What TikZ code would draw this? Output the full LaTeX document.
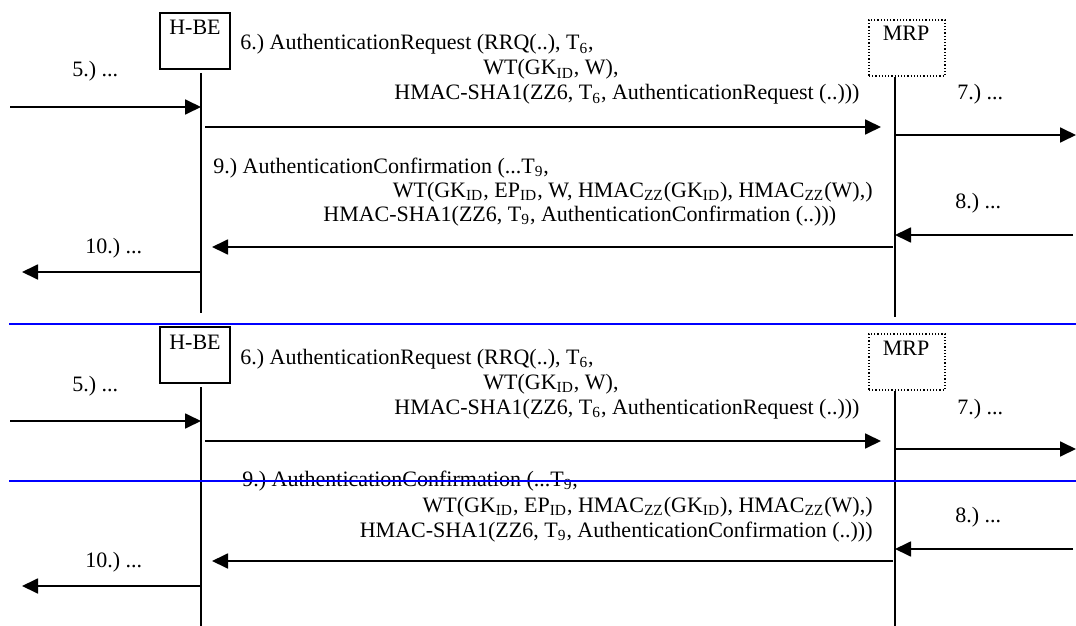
\documentclass[tikz,border=0pt]{standalone}
\usepackage{fontspec}
\setmainfont{Liberation Serif}
\usepackage{tikz}
\usetikzlibrary{arrows.meta,positioning}
\frenchspacing

\begin{document}
\begin{tikzpicture}[x=0.5pt,y=-0.5pt]

\tikzset{msg/.style={font=\fontsize{11}{12}\selectfont,inner sep=0pt},
hbebox/.style={draw,line width=0.7pt,minimum width=35pt,minimum height=28pt,inner sep=0pt},
mrpbox/.style={draw,densely dotted,line width=0.6pt,minimum width=38pt,minimum height=28pt,inner sep=0pt},
lifeline/.style={line width=0.9pt},
arr/.style={line width=0.9pt,-{Triangle[length=8pt,width=7.5pt]}},
sepline/.style={blue,line width=0.9pt}}

\useasboundingbox (0,0) rectangle (1076,626);

\foreach \dy/\d in {0/a,314/b} {
\begin{scope}[shift={(0,\dy)}]
% Entities
\node[hbebox] (hbe\d) at (195,41) {};
\node[msg,anchor=base] (hbename\d) at (195,35) {H-BE};
\node[mrpbox] (mrp\d) at (907,48) {};
\node[msg,anchor=base] (mrpname\d) at (906,41) {MRP};

% Lifelines
\coordinate (hbetop\d) at (201,73); \coordinate (hbeend\d) at (201,313);
\coordinate (mrptop\d) at (895,77); \coordinate (mrpend\d) at (895,317);
\draw[lifeline] (hbetop\d) -- (hbeend\d); \draw[lifeline] (mrptop\d) -- (mrpend\d);

% Message end points
\coordinate (in5\d) at (10,107); \coordinate (h5\d) at (201,107);
\coordinate (h6\d) at (205,127); \coordinate (m6\d) at (881,127);
\coordinate (m7\d) at (895,135); \coordinate (out7\d) at (1076,135);
\coordinate (in8\d) at (1073,235); \coordinate (m8\d) at (895,235);
\coordinate (m9\d) at (893,247); \coordinate (h9\d) at (212,247);
\coordinate (h10\d) at (201,272); \coordinate (out10\d) at (22,272);

% Messages
\draw[arr] (in5\d) -- (h5\d); \draw[arr] (h6\d) -- (m6\d);
\draw[arr] (m7\d) -- (out7\d); \draw[arr] (in8\d) -- (m8\d);
\draw[arr] (m9\d) -- (h9\d); \draw[arr] (h10\d) -- (out10\d);

% Labels
\node[msg,anchor=base west] (lab5\d) at (72,77) {5.) ...};
\node[msg,anchor=base west] (lab10\d) at (85,253) {10.) ...};
\node[msg,anchor=base west] (lab7\d) at (957,100) {7.) ...};
\node[msg,anchor=base west] (lab8\d) at (955,208) {8.) ...};
\node[msg,anchor=base west] (req1\d) at (240,50) {6.) AuthenticationRequest (RRQ(..), T\textsubscript{6},};
\node[msg,anchor=base west] (req2\d) at (483,75) {WT(GK\textsubscript{ID}, W),};
\node[msg,anchor=base west] (req3\d) at (394,100) {HMAC-SHA1(ZZ6, T\textsubscript{6}, AuthenticationRequest (..)))};
\end{scope}
}

% Confirmation, upper copy
\node[msg,anchor=base west] (conf1a) at (213,173) {9.) AuthenticationConfirmation (...T\textsubscript{9},};
\node[msg,anchor=base east] (conf2a) at (873,197) {WT(GK\textsubscript{ID}, EP\textsubscript{ID}, W, HMAC\textsubscript{ZZ}(GK\textsubscript{ID}), HMAC\textsubscript{ZZ}(W),)};
\node[msg,anchor=base west] (conf3a) at (323,221) {HMAC-SHA1(ZZ6, T\textsubscript{9}, AuthenticationConfirmation (..)))};

% Confirmation, lower copy
\node[msg,anchor=base west] (conf1b) at (242,486) {9.) AuthenticationConfirmation (...T\textsubscript{9},};
\node[msg,anchor=base east] (conf2b) at (873,512) {WT(GK\textsubscript{ID}, EP\textsubscript{ID}, HMAC\textsubscript{ZZ}(GK\textsubscript{ID}), HMAC\textsubscript{ZZ}(W),)};
\node[msg,anchor=base east] (conf3b) at (873,537) {HMAC-SHA1(ZZ6, T\textsubscript{9}, AuthenticationConfirmation (..)))};

% Blue separators
\coordinate (sep1l) at (9,324); \coordinate (sep1r) at (1076,324);
\coordinate (sep2l) at (9,481); \coordinate (sep2r) at (1076,481);
\draw[sepline] (sep1l) -- (sep1r); \draw[sepline] (sep2l) -- (sep2r);

\end{tikzpicture}
\end{document}
